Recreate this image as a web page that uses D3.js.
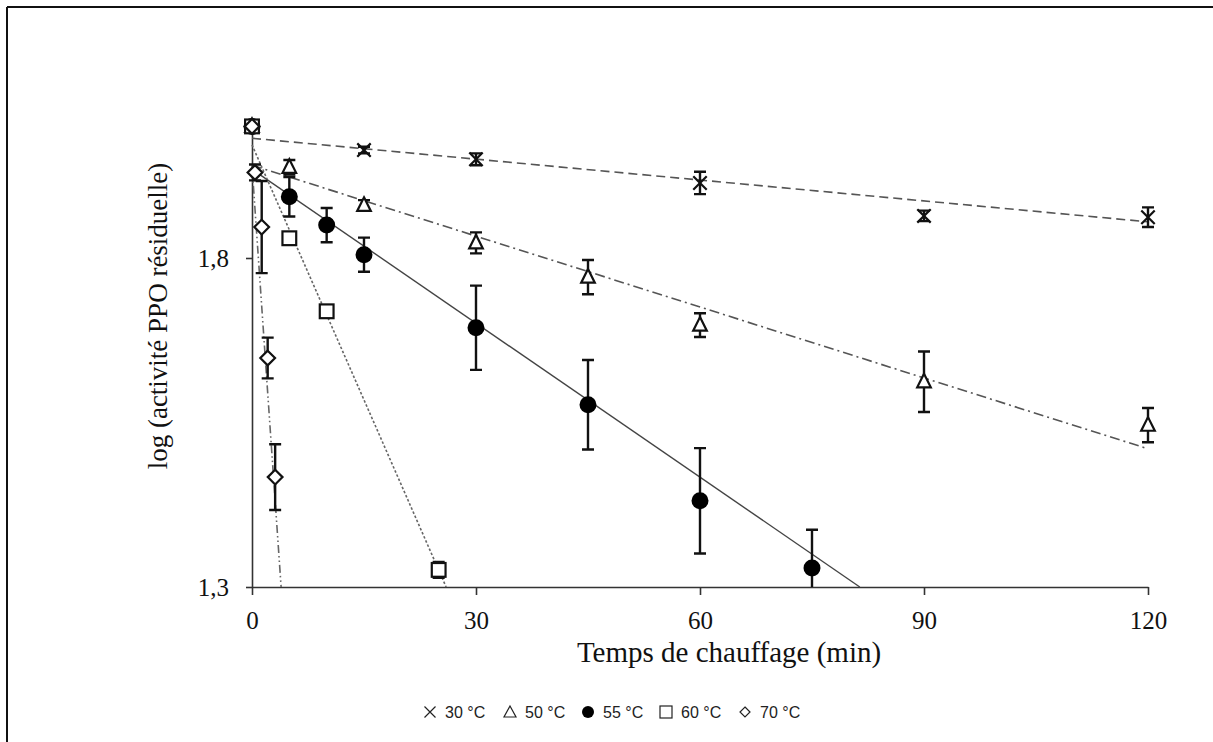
<!DOCTYPE html>
<html><head><meta charset="utf-8">
<script src="https://cdn.jsdelivr.net/npm/d3@7"></script>
<style>body{margin:0;background:#fff}svg{display:block}</style>
</head><body>
<script>
// ---------- data ----------
const xTicks = [0, 30, 60, 90, 120];
const yTicks = [1.3, 1.8];
const seriesNames = ["30 °C", "50 °C", "55 °C", "60 °C", "70 °C"];

const t30 = [0, 15, 30, 60, 90, 120];
const v30 = [2.0, 1.964, 1.950, 1.914, 1.864, 1.862];
const e30 = [0.005, 0.005, 0.009, 0.017, 0.008, 0.015];
const fit30 = [[0, 1.982], [120, 1.855]];

const t50 = [0, 5, 15, 30, 45, 60, 90, 120];
const v50 = [2.0, 1.938, 1.880, 1.823, 1.771, 1.698, 1.612, 1.546];
const e50 = [0.005, 0.011, 0.008, 0.016, 0.026, 0.018, 0.046, 0.026];
const fit50 = [[0, 1.941], [120, 1.510]];

const t55 = [0, 5, 10, 15, 30, 45, 60, 75];
const v55 = [2.0, 1.893, 1.850, 1.805, 1.694, 1.577, 1.431, 1.329];
const e55 = [0.005, 0.030, 0.026, 0.026, 0.064, 0.068, 0.080, 0.058];
const fit55 = [[0, 1.935], [81.4, 1.3]];

const t60 = [0, 5, 10, 25];
const v60 = [2.0, 1.830, 1.719, 1.326];
const e60 = [0.005, 0.005, 0.005, 0.012];
const fit60 = [[0, 1.972], [26.0, 1.3]];

const t70 = [0, 0.4, 1.3, 2.1, 3.1];
const v70 = [2.0, 1.930, 1.847, 1.648, 1.467];
const e70 = [0.005, 0.012, 0.070, 0.031, 0.050];
const fit70 = [[0, 1.94], [3.9, 1.3]];

// ---------- chart ----------
const W = 1213, H = 742;
const svg = d3.select("body").append("svg").attr("width", W).attr("height", H);

// outer frame (left and top edges visible)
svg.append("line").attr("x1", 7).attr("x2", W).attr("y1", 7).attr("y2", 7).attr("stroke", "#111").attr("stroke-width", 2);
svg.append("line").attr("x1", 7).attr("x2", 7).attr("y1", 7).attr("y2", H).attr("stroke", "#111").attr("stroke-width", 2);

const x = d3.scaleLinear().domain([0, 120]).range([252, 1148]);
const y = d3.scaleLinear().domain([1.3, 2.0]).range([587, 126.4]);

const serif = "'Liberation Serif', 'Times New Roman', serif";

// axes
const xAxis = svg.append("g").attr("transform", `translate(0,${y(1.3)})`)
  .call(d3.axisBottom(x).tickValues(xTicks).tickSize(8).tickSizeOuter(0).tickFormat(d3.format("d")));
xAxis.selectAll("text").attr("y", 42).attr("dy", 0).style("font-family", serif).style("font-size", "25px").attr("fill", "#111");

const yAxis = svg.append("g").attr("transform", `translate(${x(0)},0)`)
  .call(d3.axisLeft(y).tickValues(yTicks).tickSize(6).tickSizeOuter(0).tickFormat(d => d.toFixed(1).replace(".", ",")));
yAxis.selectAll("text").attr("x", -23).attr("dy", "0.34em").style("font-family", serif).style("font-size", "25px").attr("fill", "#111");

svg.selectAll(".domain, .tick line").attr("stroke", "#333").attr("stroke-width", 1.6);

// titles
svg.append("text").attr("x", 729).attr("y", 662).attr("text-anchor", "middle")
  .style("font-family", serif).style("font-size", "29px").attr("fill", "#111").text("Temps de chauffage (min)");
svg.append("text").attr("transform", "translate(167,316) rotate(-90)").attr("text-anchor", "middle")
  .style("font-family", serif).style("font-size", "27px").attr("fill", "#111").text("log (activité PPO résiduelle)");

// trend lines
const line = d3.line().x(d => x(d[0])).y(d => y(d[1]));
const fits = [
  {d: fit30, dash: "9,5", w: 1.6, c: "#555"},
  {d: fit50, dash: "10,4,2,4", w: 1.6, c: "#555"},
  {d: fit55, dash: null, w: 1.4, c: "#444"},
  {d: fit60, dash: "2.5,2", w: 1.6, c: "#666"},
  {d: fit70, dash: "8,3,1.5,3,1.5,3", w: 1.6, c: "#666"}
];
fits.forEach(f => {
  const p = svg.append("path").attr("d", line(f.d)).attr("fill", "none")
    .attr("stroke", f.c).attr("stroke-width", f.w);
  if (f.dash) p.attr("stroke-dasharray", f.dash);
});

// series
const series = [
  {t: t30, v: v30, e: e30, sym: "x"},
  {t: t50, v: v50, e: e50, sym: "tri"},
  {t: t55, v: v55, e: e55, sym: "circle"},
  {t: t60, v: v60, e: e60, sym: "square"},
  {t: t70, v: v70, e: e70, sym: "diamond"}
];

function drawSym(g, sym, cx, cy, s) {
  if (sym === "x") {
    const r = s * 0.42;
    g.append("path").attr("d", `M${cx-r},${cy-r}L${cx+r},${cy+r}M${cx-r},${cy+r}L${cx+r},${cy-r}`)
      .attr("stroke", "#111").attr("stroke-width", 2.2).attr("fill", "none");
  } else if (sym === "tri") {
    const r = s * 0.5;
    g.append("path").attr("d", `M${cx},${cy-r}L${cx+r*0.85},${cy+r*0.7}L${cx-r*0.85},${cy+r*0.7}Z`)
      .attr("stroke", "#111").attr("stroke-width", 2.2).attr("fill", "#fff");
  } else if (sym === "circle") {
    g.append("circle").attr("cx", cx).attr("cy", cy).attr("r", s * 0.53).attr("fill", "#000");
  } else if (sym === "square") {
    const r = s * 0.43;
    g.append("rect").attr("x", cx - r).attr("y", cy - r).attr("width", 2 * r).attr("height", 2 * r)
      .attr("stroke", "#111").attr("stroke-width", 2.2).attr("fill", "#fff");
  } else if (sym === "diamond") {
    const r = s * 0.46;
    g.append("path").attr("d", `M${cx},${cy-r}L${cx+r},${cy}L${cx},${cy+r}L${cx-r},${cy}Z`)
      .attr("stroke", "#111").attr("stroke-width", 2.2).attr("fill", "#fff");
  }
}

const gErr = svg.append("g");
const gSym = svg.append("g");
series.forEach(s => {
  s.t.forEach((t, i) => {
    const cx = x(t), y1 = y(s.v[i] + s.e[i]), y2 = y(Math.max(1.3, s.v[i] - s.e[i]));
    gErr.append("path").attr("d", `M${cx},${y1}V${y2}M${cx-6},${y1}H${cx+6}` + (s.v[i] - s.e[i] > 1.3 ? `M${cx-6},${y2}H${cx+6}` : ""))
      .attr("stroke", "#111").attr("stroke-width", 2.4).attr("fill", "none");
  });
});
series.forEach(s => {
  s.t.forEach((t, i) => drawSym(gSym, s.sym, x(t), y(s.v[i]), 16));
});

// legend
const legX = [430, 510, 588, 666, 745];
const leg = svg.append("g");
series.forEach((s, i) => {
  const g = leg.append("g");
  const cy = 712;
  if (s.sym === "x") {
    const r = 5.5;
    g.append("path").attr("d", `M${legX[i]-r},${cy-r}L${legX[i]+r},${cy+r}M${legX[i]-r},${cy+r}L${legX[i]+r},${cy-r}`).attr("stroke", "#222").attr("stroke-width", 1.2);
  } else if (s.sym === "tri") {
    g.append("path").attr("d", `M${legX[i]},${cy-6}L${legX[i]+6},${cy+5}L${legX[i]-6},${cy+5}Z`).attr("stroke", "#222").attr("stroke-width", 1.2).attr("fill", "#fff");
  } else if (s.sym === "circle") {
    g.append("circle").attr("cx", legX[i]).attr("cy", cy).attr("r", 6).attr("fill", "#000");
  } else if (s.sym === "square") {
    g.append("rect").attr("x", legX[i] - 6).attr("y", cy - 6).attr("width", 12).attr("height", 12).attr("stroke", "#222").attr("stroke-width", 1.2).attr("fill", "#fff");
  } else {
    g.append("path").attr("d", `M${legX[i]},${cy-5}L${legX[i]+5},${cy}L${legX[i]},${cy+5}L${legX[i]-5},${cy}Z`).attr("stroke", "#222").attr("stroke-width", 1.2).attr("fill", "#fff");
  }
  g.append("text").attr("x", legX[i] + 15).attr("y", cy + 6)
    .style("font-family", "'Liberation Sans', Arial, sans-serif").style("font-size", "16px").attr("fill", "#222")
    .text(seriesNames[i]);
});
</script>
</body></html>
